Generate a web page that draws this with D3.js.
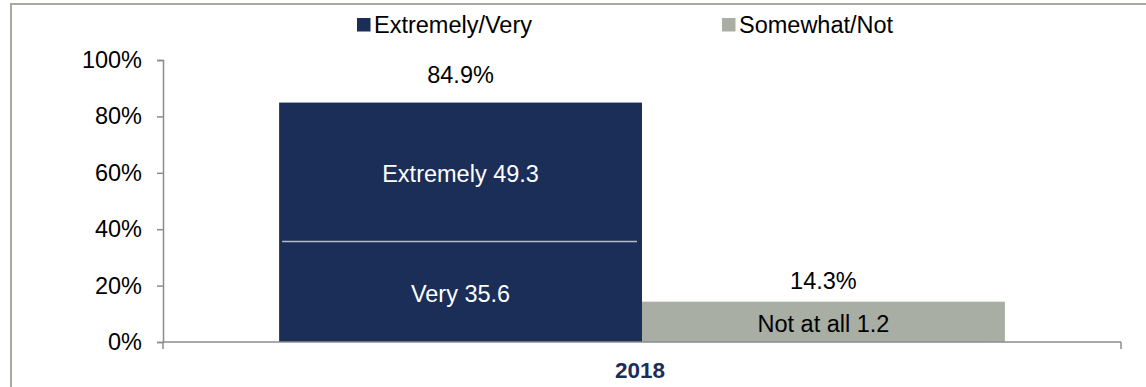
<!DOCTYPE html>
<html>
<head>
<meta charset="utf-8">
<script src="https://cdn.jsdelivr.net/npm/d3@7"></script>
<style>
  html, body { margin: 0; padding: 0; background: #fff; }
  svg { display: block; font-family: "Liberation Sans", Arial, sans-serif; }
</style>
</head>
<body>
<svg id="chart" width="1146" height="387"></svg>
<script>
// Survey years on the x axis
const categories = ["2018"];
// Top-level series shown in the legend
const seriesNames = ["Extremely/Very", "Somewhat/Not"];
// Series totals (percent)
const seriesTotals = [84.9, 14.3];
// Inner breakdown labels drawn inside the bars
const innerParts = [
  [{ label: "Very", value: 35.6 }, { label: "Extremely", value: 49.3 }],
  [{ label: "Not at all", value: 1.2 }]
];
// Y axis ticks
const yTicks = [0, 20, 40, 60, 80, 100];

const colors = ["#1a2e58", "#a8aea3"];
const axisColor = "#8c8c8c";

const svg = d3.select("#chart");

// outer frame
svg.append("rect")
  .attr("x", 11).attr("y", 4)
  .attr("width", 1200).attr("height", 420)
  .attr("fill", "none")
  .attr("stroke", "#a6aa9f")
  .attr("stroke-width", 2);

const plot = { left: 163, right: 1121, top: 60, bottom: 342 };

const y = d3.scaleLinear().domain([0, 100]).range([plot.bottom, plot.top]);
const x0 = d3.scaleBand().domain(categories).range([plot.left, plot.right]);
const x1 = d3.scaleBand().domain(seriesNames)
  .range([0, x0.bandwidth()])
  .paddingInner(0).paddingOuter(0.32);

// y axis
const yAxis = d3.axisLeft(y)
  .tickValues(yTicks)
  .tickFormat(d => d + "%")
  .tickSize(6)
  .tickPadding(15);
const gy = svg.append("g").attr("transform", `translate(${plot.left},0)`).call(yAxis);
gy.select(".domain").attr("stroke", axisColor).attr("stroke-width", 1.5);
gy.selectAll(".tick line").attr("stroke", axisColor).attr("stroke-width", 1.5);
gy.selectAll(".tick text")
  .attr("fill", "#000")
  .style("font-size", "23.5px")
  .style("font-family", "'Liberation Sans', Arial, sans-serif");

// bars
const data = categories.flatMap(cat => seriesNames.map((s, i) => ({
  cat, series: s, i, total: seriesTotals[i], parts: innerParts[i]
})));

const groups = svg.append("g").selectAll("g.bar")
  .data(data).join("g")
  .attr("class", "bar")
  .attr("transform", d => `translate(${x0(d.cat) + x1(d.series)},0)`);

groups.append("rect")
  .attr("x", 0)
  .attr("y", d => y(d.total))
  .attr("width", x1.bandwidth())
  .attr("height", d => y(0) - y(d.total))
  .attr("fill", d => colors[d.i]);

// separator between stacked parts of the first series
groups.filter(d => d.parts.length > 1).each(function (d) {
  const g = d3.select(this);
  let acc = 0;
  d.parts.slice(0, -1).forEach(p => {
    acc += p.value;
    g.append("line")
      .attr("x1", 3).attr("x2", x1.bandwidth() - 5)
      .attr("y1", y(acc)).attr("y2", y(acc))
      .attr("stroke", "#b4bccc")
      .attr("stroke-width", 1.5);
  });
});

// inner labels
groups.each(function (d) {
  const g = d3.select(this);
  const textColor = d.i === 0 ? "#fff" : "#000";
  if (d.parts.length > 1) {
    let acc = 0;
    d.parts.forEach(p => {
      const mid = y(acc + p.value / 2);
      acc += p.value;
      g.append("text")
        .attr("x", x1.bandwidth() / 2)
        .attr("y", mid)
        .attr("dy", "0.42em")
        .attr("text-anchor", "middle")
        .attr("fill", textColor)
        .style("font-size", "23.5px")
        .text(`${p.label} ${p.value}`);
    });
  } else {
    const p = d.parts[0];
    g.append("text")
      .attr("x", x1.bandwidth() / 2)
      .attr("y", y(d.total / 2))
      .attr("dy", "0.42em")
      .attr("text-anchor", "middle")
      .attr("fill", textColor)
      .style("font-size", "23.5px")
      .text(`${p.label} ${p.value}`);
  }
});

// total labels above bars
const totalGap = [20, 13];
groups.append("text")
  .attr("x", x1.bandwidth() / 2)
  .attr("y", d => y(d.total) - totalGap[d.i])
  .attr("text-anchor", "middle")
  .attr("fill", "#000")
  .style("font-size", "23.5px")
  .text(d => d.total.toFixed(1) + "%");

// x axis
const xAxis = d3.axisBottom(x0).tickSize(0).tickPadding(0);
const gx = svg.append("g").attr("transform", `translate(0,${plot.bottom})`).call(xAxis);
gx.select(".domain").remove();
gx.selectAll(".tick text").remove();
gx.append("line")
  .attr("x1", plot.left).attr("x2", plot.right)
  .attr("y1", 0).attr("y2", 0)
  .attr("stroke", axisColor).attr("stroke-width", 1.5);
// category boundary ticks
const bounds = [plot.left, plot.right];
gx.selectAll("line.bound").data(bounds).join("line")
  .attr("class", "bound")
  .attr("x1", d => d).attr("x2", d => d)
  .attr("y1", 0).attr("y2", 7)
  .attr("stroke", axisColor).attr("stroke-width", 1.5);
gx.selectAll("text.cat").data(categories).join("text")
  .attr("class", "cat")
  .attr("x", d => x0(d) + x0.bandwidth() / 2 - 2)
  .attr("y", 36)
  .attr("text-anchor", "middle")
  .attr("fill", "#1a2e58")
  .style("font-size", "22.5px")
  .style("font-weight", "bold")
  .text(d => d);

// legend
const legendX = [357, 722];
const legend = svg.append("g").selectAll("g")
  .data(seriesNames).join("g")
  .attr("transform", (d, i) => `translate(${legendX[i]},0)`);
legend.append("rect")
  .attr("x", 0).attr("y", 18)
  .attr("width", 13.5).attr("height", 13.5)
  .attr("fill", (d, i) => colors[i]);
legend.append("text")
  .attr("x", 17).attr("y", 33)
  .attr("fill", "#000")
  .style("font-size", "23.5px")
  .text(d => d);
</script>
</body>
</html>
